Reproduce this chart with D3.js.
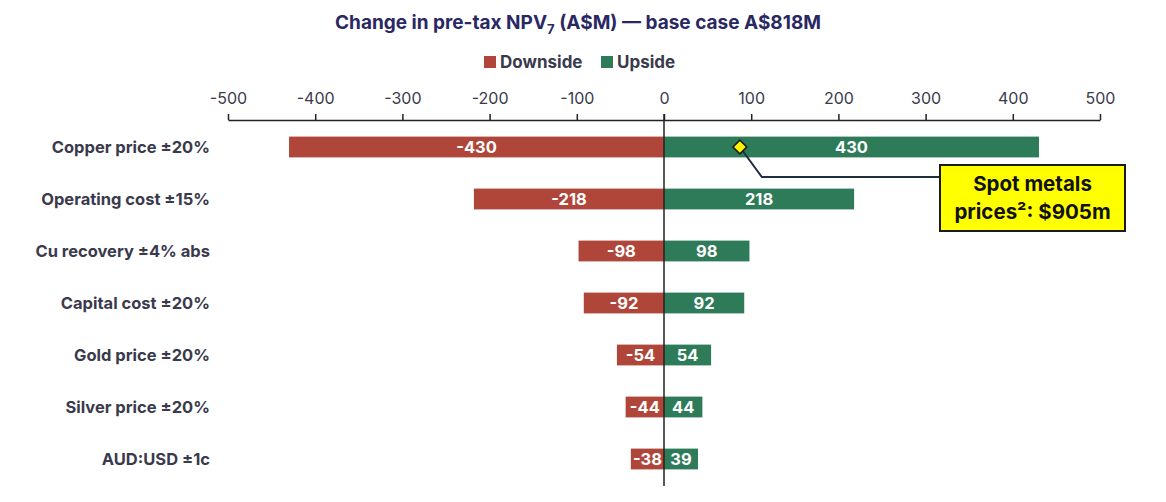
<!DOCTYPE html>
<html>
<head>
<meta charset="utf-8">
<script src="https://cdn.jsdelivr.net/npm/d3@7"></script>
<style>
  body { margin: 0; background: #fff; }
  svg { font-family: Inter, "Open Sans", sans-serif; }
</style>
</head>
<body>
<div id="chart"></div>
<script>
const categories = ["Copper price ±20%", "Operating cost ±15%", "Cu recovery ±4% abs",
  "Capital cost ±20%", "Gold price ±20%", "Silver price ±20%", "AUD:USD ±1c"];
const downside = [-430, -218, -98, -92, -54, -44, -38];
const upside = [430, 218, 98, 92, 54, 44, 39];
const xTicks = [-500, -400, -300, -200, -100, 0, 100, 200, 300, 400, 500];
const baseCase = 818;
const spotCase = 905;
const calloutLines = ["Spot metals", "prices²: $905m"];

const width = 1166, height = 502;
const margin = { top: 120, right: 66, bottom: 17, left: 228 };
const red = "#B0463A", green = "#2E7B5A", navy = "#2A2862", ink = "#3A3A4C";

const svg = d3.select("#chart").append("svg")
  .attr("width", width).attr("height", height);

const x = d3.scaleLinear().domain([-500, 500]).range([margin.left, width - margin.right]);
const y = d3.scaleBand().domain(categories).range([121, 485]).paddingInner(0.6).paddingOuter(0.3);

// Title
const title = svg.append("text")
  .attr("x", 578).attr("y", 29)
  .attr("text-anchor", "middle")
  .attr("fill", navy)
  .style("font-size", "19px").style("font-weight", 700);
title.append("tspan").text("Change in pre-tax NPV");
title.append("tspan").text("7").attr("dy", 5).style("font-size", "13px");
title.append("tspan").text(" (A$M) — base case A$" + baseCase + "M").attr("dy", -5);

// Legend
const legend = [{ name: "Downside", color: red, x: 484 }, { name: "Upside", color: green, x: 601 }];
const lg = svg.selectAll(".legend").data(legend).enter().append("g")
  .attr("transform", d => `translate(${d.x},62)`);
lg.append("rect").attr("x", 0).attr("y", -6).attr("width", 12).attr("height", 12).attr("fill", d => d.color);
lg.append("text").attr("x", 16).attr("y", 6).text(d => d.name)
  .attr("fill", ink).style("font-size", "17px").style("font-weight", 700);

// Axis on top
const axis = svg.append("g")
  .attr("transform", `translate(0,${margin.top})`)
  .call(d3.axisTop(x).tickValues(xTicks).tickFormat(d => String(d))
    .tickSize(6).tickPadding(10).tickSizeOuter(0));
axis.select(".domain").attr("stroke", "#222").attr("stroke-width", 1.5);
axis.selectAll(".tick line").attr("stroke", "#222").attr("stroke-width", 1.5);
axis.selectAll(".tick text").attr("fill", ink).style("font-size", "16px")
  .style("font-family", "Inter, sans-serif");

// Category labels
svg.selectAll(".cat").data(categories).enter().append("text")
  .attr("x", 210)
  .attr("y", d => y(d) + y.bandwidth() / 2)
  .attr("dy", "0.35em")
  .attr("text-anchor", "end")
  .attr("fill", ink)
  .style("font-size", "16.5px").style("font-weight", 700)
  .text(d => d);

const rows = categories.map((c, i) => ({ c, lo: downside[i], hi: upside[i] }));

// Bars
svg.selectAll(".down").data(rows).enter().append("rect")
  .attr("x", d => x(d.lo)).attr("y", d => y(d.c))
  .attr("width", d => x(0) - x(d.lo)).attr("height", y.bandwidth())
  .attr("fill", red);
svg.selectAll(".up").data(rows).enter().append("rect")
  .attr("x", x(0)).attr("y", d => y(d.c))
  .attr("width", d => x(d.hi) - x(0)).attr("height", y.bandwidth())
  .attr("fill", green);

// Value labels
svg.selectAll(".downlbl").data(rows).enter().append("text")
  .attr("x", d => (x(d.lo) + x(0)) / 2)
  .attr("y", d => y(d.c) + y.bandwidth() / 2).attr("dy", "0.36em")
  .attr("text-anchor", "middle").attr("fill", "#fff")
  .style("font-size", "16.5px").style("font-weight", 700)
  .text(d => d.lo);
svg.selectAll(".uplbl").data(rows).enter().append("text")
  .attr("x", d => (x(d.hi) + x(0)) / 2)
  .attr("y", d => y(d.c) + y.bandwidth() / 2).attr("dy", "0.36em")
  .attr("text-anchor", "middle").attr("fill", "#fff")
  .style("font-size", "16.5px").style("font-weight", 700)
  .text(d => d.hi);

// Zero line
svg.append("line")
  .attr("x1", x(0)).attr("x2", x(0))
  .attr("y1", margin.top - 6).attr("y2", 486)
  .attr("stroke", "#222").attr("stroke-width", 1.5);

// Spot metals marker + callout
const mx = x(spotCase - baseCase), my = y(categories[0]) + y.bandwidth() / 2;
const box = { x: 940, y: 165, w: 185, h: 66 };
svg.append("polyline")
  .attr("points", `${mx},${my} ${mx + 22},${177} ${box.x},${177}`)
  .attr("fill", "none").attr("stroke", "#1f2d3d").attr("stroke-width", 2);
svg.append("path")
  .attr("transform", `translate(${mx},${my}) rotate(45)`)
  .attr("d", d3.symbol().type(d3.symbolSquare).size(95))
  .attr("fill", "#FFF200").attr("stroke", "#1a1a1a").attr("stroke-width", 1.5);
svg.append("rect")
  .attr("x", box.x).attr("y", box.y).attr("width", box.w).attr("height", box.h)
  .attr("fill", "#FFFF00").attr("stroke", "#1a1a1a").attr("stroke-width", 2);
const ct = svg.append("text")
  .attr("x", box.x + box.w / 2).attr("y", box.y + 26)
  .attr("text-anchor", "middle").attr("fill", "#111")
  .style("font-size", "20.5px").style("font-weight", 700);
ct.append("tspan").attr("x", box.x + box.w / 2).text(calloutLines[0]);
ct.append("tspan").attr("x", box.x + box.w / 2).attr("dy", 28).text(calloutLines[1]);
</script>
</body>
</html>
